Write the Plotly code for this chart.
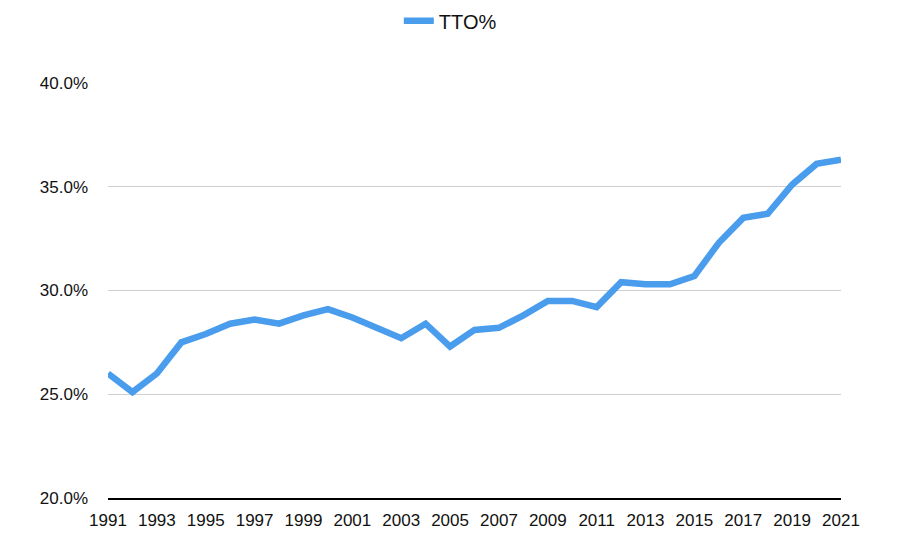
import plotly.graph_objects as go

years = list(range(1991, 2022))
tto_pct = [26.0, 25.1, 26.0, 27.5, 27.9, 28.4, 28.6, 28.4, 28.8, 29.1,
           28.7, 28.2, 27.7, 28.4, 27.3, 28.1, 28.2, 28.8, 29.5, 29.5,
           29.2, 30.4, 30.3, 30.3, 30.7, 32.3, 33.5, 33.7, 35.1, 36.1, 36.3]
x_ticks = list(range(1991, 2022, 2))
y_ticks = [20, 25, 30, 35, 40]

fig = go.Figure()
fig.add_trace(go.Scatter(
    x=years, y=tto_pct, mode="lines", name="TTO%",
    line=dict(color="#4A9DEC", width=6.5),
))

fig.update_layout(
    width=900, height=555,
    margin=dict(l=100, r=67, t=75, b=65, autoexpand=False),
    paper_bgcolor="white", plot_bgcolor="white",
    font=dict(family="Liberation Sans, Arial, sans-serif", size=17, color="#111"),
    showlegend=True,
    legend=dict(orientation="h", x=0.467, xanchor="center", y=1.197, yanchor="top",
                yref="paper", itemwidth=30, font=dict(size=20)),
    xaxis=dict(range=[1991, 2021], tickvals=x_ticks, showgrid=False,
               showline=True, linecolor="black", linewidth=1.5, ticks="",
               zeroline=False, ticklabelstandoff=6),
    yaxis=dict(range=[20, 40], tickvals=y_ticks, ticktext=[f"{v:.1f}%" for v in y_ticks],
               showgrid=True, gridcolor="#cfcfcf", gridwidth=1, zeroline=False,
               showline=False, ticks="", ticklabelstandoff=19),
)

fig.write_html("out.html")
